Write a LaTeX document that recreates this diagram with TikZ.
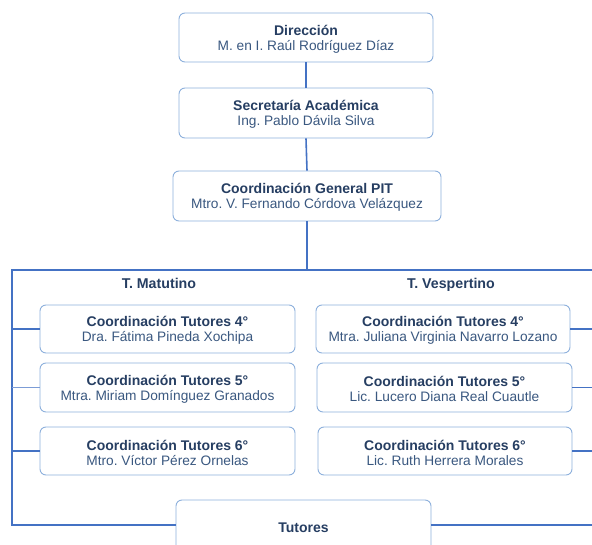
\documentclass[tikz,border=0pt]{standalone}
\usepackage{fontspec}
\setmainfont{Liberation Sans}
\frenchspacing
\definecolor{boxline}{RGB}{141,176,220}
\definecolor{conn}{RGB}{68,114,196}
\definecolor{titletxt}{RGB}{38,62,98}
\definecolor{nametxt}{RGB}{58,88,128}
\newcommand{\bt}[1]{{\fontsize{14}{15.5}\selectfont\bfseries\color{titletxt}\rule{0pt}{13.5pt}#1}}
\begin{document}
\begin{tikzpicture}[x=1pt,y=-1pt,
  orgbox/.style={draw=boxline, line width=0.9pt, rounded corners=6pt, fill=white,
    align=center, inner sep=0pt, font=\fontsize{13.7}{15.2}\selectfont\frenchspacing, text=nametxt},
  link/.style={draw=conn, line width=1.6pt},
  thinlink/.style={draw=conn!70, line width=0.9pt},
  turno/.style={font=\fontsize{14.2}{15.5}\selectfont\bfseries, text=titletxt, anchor=base}
]
\useasboundingbox (0,0) rectangle (592,545);
\clip (0,0) rectangle (592,545);
\node[orgbox, minimum width=254pt, minimum height=49pt] (dir) at (306,37.5)
  {\bt{Dirección}\\M. en I. Raúl Rodríguez Díaz};
\node[orgbox, minimum width=254pt, minimum height=50pt] (sec) at (306,113)
  {\bt{Secretaría Académica}\\Ing. Pablo Dávila Silva};
\node[orgbox, minimum width=268pt, minimum height=50pt] (cg) at (307,196)
  {\bt{Coordinación General PIT}\\Mtro. V. Fernando Córdova Velázquez};
\node[turno] (tm) at (159,289) {T. Matutino};
\node[turno] (tv) at (451,289) {T. Vespertino};
\node[orgbox, minimum width=255pt, minimum height=48pt] (m4) at (167.5,329)
  {\bt{Coordinación Tutores 4°}\\Dra. Fátima Pineda Xochipa};
\node[orgbox, minimum width=255pt, minimum height=49pt] (m5) at (167.5,387.5)
  {\bt{Coordinación Tutores 5°}\\Mtra. Miriam Domínguez Granados};
\node[orgbox, minimum width=255pt, minimum height=48pt] (m6) at (167.5,451)
  {\bt{Coordinación Tutores 6°}\\Mtro. Víctor Pérez Ornelas};
\node[orgbox, minimum width=254pt, minimum height=48pt] (v4) at (443,329)
  {\bt{Coordinación Tutores 4°}\\Mtra. Juliana Virginia Navarro Lozano};
\node[orgbox, minimum width=255pt, minimum height=49pt] (v5) at (444.5,387.5)
  {\bt{Coordinación Tutores 5°}\\Lic. Lucero Diana Real Cuautle};
\node[orgbox, minimum width=254pt, minimum height=48pt] (v6) at (445,451)
  {\bt{Coordinación Tutores 6°}\\Lic. Ruth Herrera Morales};
\node[orgbox, minimum width=255pt, minimum height=56pt] (tut) at (303.5,528)
  {{\fontsize{14}{15.5}\selectfont\bfseries\color{titletxt}Tutores}};
\coordinate (jn) at (307,270);
\coordinate (tl) at (12,270);
\coordinate (bl) at (12,525);
\coordinate (tr) at (600,270);
\coordinate (br) at (600,525);
\draw[link] (dir.south) -- (sec.north);
\draw[link] (sec.south) -- (cg.north);
\draw[link] (cg.south) -- (jn);
\draw[link] (tr) -- (tl) -- (bl) -- (bl -| tut.west);
\draw[link] (tut.east |- br) -- (br);
\draw[link] (m4.west -| tl) -- (m4.west);
\draw[thinlink] (m5.west -| tl) -- (m5.west);
\draw[link] (m6.west -| tl) -- (m6.west);
\draw[link] (v4.east) -- (v4.east -| tr);
\draw[link] (v5.east) -- (v5.east -| tr);
\draw[link] (v6.east) -- (v6.east -| tr);
\end{tikzpicture}
\end{document}
